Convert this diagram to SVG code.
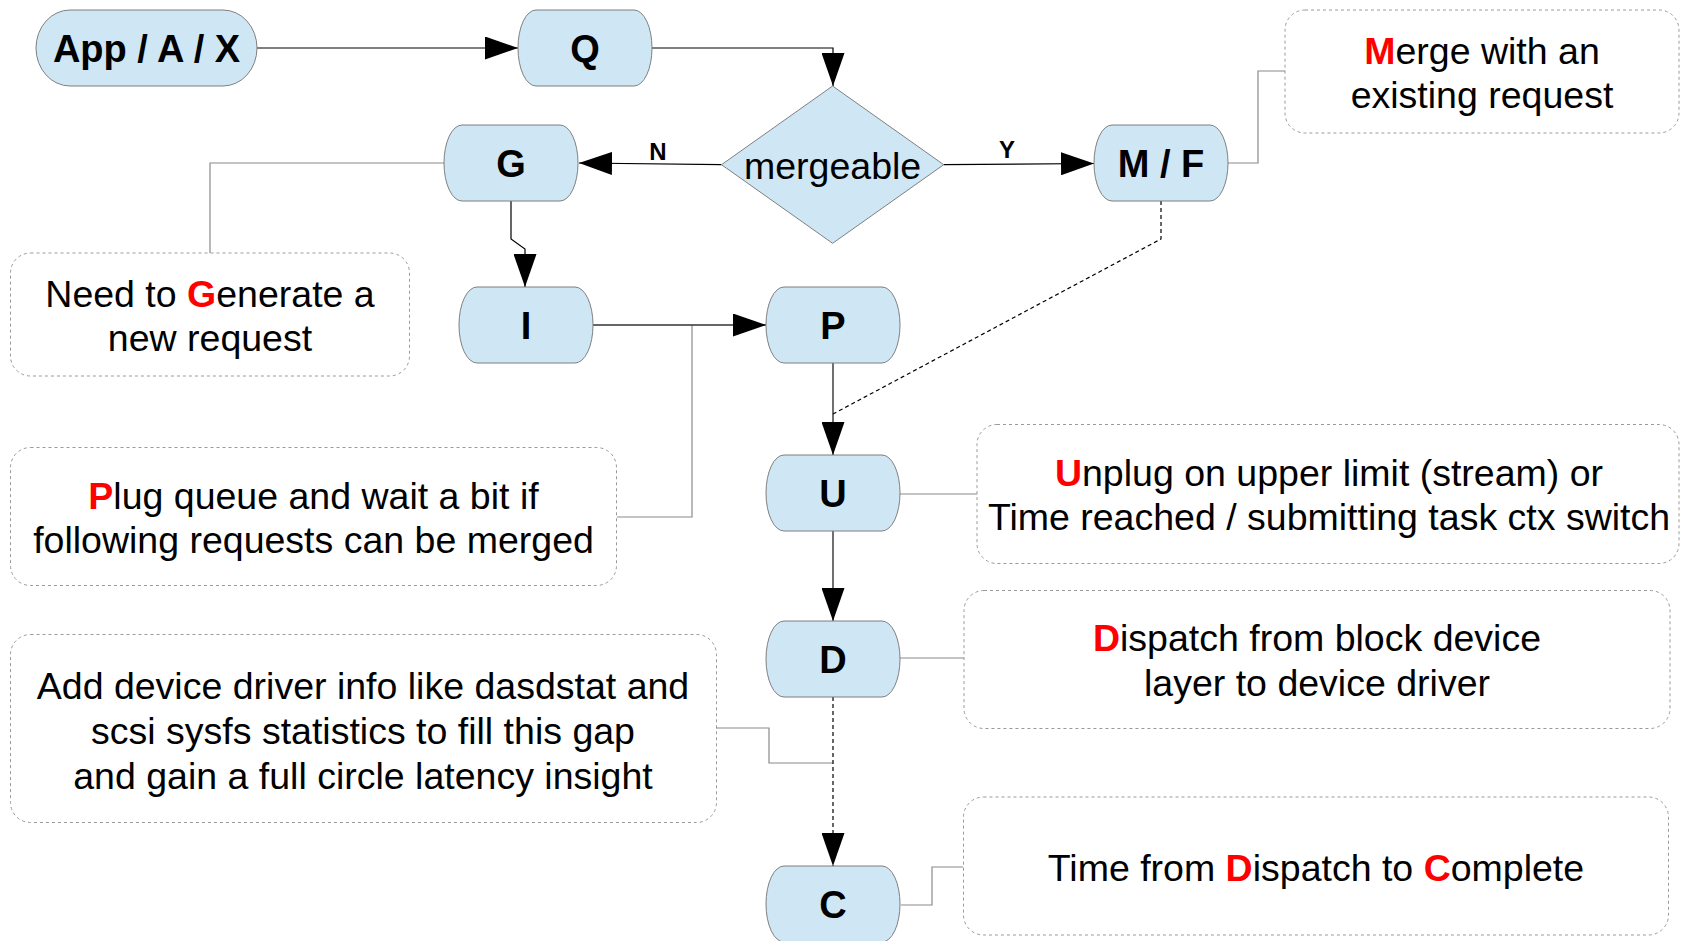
<svg xmlns="http://www.w3.org/2000/svg" width="1681" height="941" viewBox="0 0 1681 941">
  <style>
    .node { fill: #cfe7f5; stroke: #7f7f7f; stroke-width: 1; }
    .lbl { font-family: "Liberation Sans", Arial, sans-serif; font-weight: bold; font-size: 38px; fill: #000; text-anchor: middle; }
    .yn { font-family: "Liberation Sans", Arial, sans-serif; font-weight: bold; font-size: 24px; fill: #000; text-anchor: middle; }
    .note { fill: #fff; stroke: #9a9a9a; stroke-width: 1; stroke-dasharray: 3 3; }
    .ntxt { font-family: "Liberation Sans", Arial, sans-serif; font-size: 37.5px; fill: #000; text-anchor: middle; }
    .r { fill: #ff0000; font-weight: bold; }
    .flow { fill: none; stroke: #000; stroke-width: 1.2; }
    .flowg { fill: none; stroke: #333; stroke-width: 1.4; }
    .dash { fill: none; stroke: #000; stroke-width: 1.2; stroke-dasharray: 4 3; }
    .lead { fill: none; stroke: #8a8a8a; stroke-width: 1.2; }
  </style>
  <defs>
    <marker id="arrow" markerUnits="userSpaceOnUse" viewBox="0 0 33 23" refX="33" refY="11.5" markerWidth="33" markerHeight="23" orient="auto">
      <path d="M0,0 L33,11.5 L0,23 Z" fill="#000"/>
    </marker>
  </defs>
  <rect width="1681" height="941" fill="#fff"/>

  <!-- notes -->
  <g id="note-merge">
    <rect class="note" x="1285" y="10" width="394" height="123" rx="20"/>
    <text class="ntxt" x="1482" y="64"><tspan class="r">M</tspan>erge with an</text>
    <text class="ntxt" x="1482" y="108">existing request</text>
  </g>
  <g id="note-generate">
    <rect class="note" x="10.5" y="253" width="399" height="123" rx="20"/>
    <text class="ntxt" x="210" y="306.5">Need to <tspan class="r">G</tspan>enerate a</text>
    <text class="ntxt" x="210" y="350.5">new request</text>
  </g>
  <g id="note-plug">
    <rect class="note" x="10.5" y="447.5" width="606" height="138" rx="20"/>
    <text class="ntxt" x="313.5" y="508.5"><tspan class="r">P</tspan>lug queue and wait a bit if</text>
    <text class="ntxt" x="313.5" y="553">following requests can be merged</text>
  </g>
  <g id="note-unplug">
    <rect class="note" x="977" y="424.5" width="702" height="139" rx="20"/>
    <text class="ntxt" x="1329" y="486"><tspan class="r">U</tspan>nplug on upper limit (stream) or</text>
    <text class="ntxt" x="1329" y="530">Time reached / submitting task ctx switch</text>
  </g>
  <g id="note-dispatch">
    <rect class="note" x="964" y="590.5" width="706" height="138" rx="20"/>
    <text class="ntxt" x="1317" y="651"><tspan class="r">D</tspan>ispatch from block device</text>
    <text class="ntxt" x="1317" y="696">layer to device driver</text>
  </g>
  <g id="note-driver">
    <rect class="note" x="10.5" y="634.5" width="706" height="188" rx="20"/>
    <text class="ntxt" x="363" y="698.5">Add device driver info like dasdstat and</text>
    <text class="ntxt" x="363" y="744">scsi sysfs statistics to fill this gap</text>
    <text class="ntxt" x="363" y="788.5">and gain a full circle latency insight</text>
  </g>
  <g id="note-complete">
    <rect class="note" x="963.5" y="797" width="705" height="138" rx="20"/>
    <text class="ntxt" x="1316" y="881">Time from <tspan class="r">D</tspan>ispatch to <tspan class="r">C</tspan>omplete</text>
  </g>

  <!-- connectors -->
  <g id="connectors">
    <path class="lead" d="M444,163 H210 V253"/>
    <path class="lead" d="M1228,163 H1258 V71 H1285"/>
    <path class="lead" d="M692,325 V517 H617"/>
    <path class="lead" d="M900,494 H977"/>
    <path class="lead" d="M900,658 H964"/>
    <path class="lead" d="M716,728 H769 V763 H833"/>
    <path class="lead" d="M901,905 H932 V867 H963"/>

    <path class="flow" d="M257,48 H518" marker-end="url(#arrow)"/>
    <path class="flow" d="M652,48 H833 V86" marker-end="url(#arrow)"/>
    <path class="flow" d="M721.5,164.7 L579,163" marker-end="url(#arrow)"/>
    <path class="flow" d="M943.7,164.7 L1094,163.5" marker-end="url(#arrow)"/>
    <path class="flow" d="M511,201 V239 L525,249 V287" marker-end="url(#arrow)"/>
    <path class="flowg" d="M593,325 H766" marker-end="url(#arrow)"/>
    <path class="flowg" d="M833,363 V455" marker-end="url(#arrow)"/>
    <path class="dash" d="M1161,201 V239 L833,414"/>
    <path class="flowg" d="M833,531 V621" marker-end="url(#arrow)"/>
    <path class="dash" d="M833,697 V866" marker-end="url(#arrow)"/>
    <text class="yn" x="658" y="160">N</text>
    <text class="yn" x="1007" y="158">Y</text>
  </g>

  <!-- nodes -->
  <g id="node-app">
    <path class="node" d="M70,10 H223 A34 38 0 0 1 257,48 A34 38 0 0 1 223,86 H70 A34 38 0 0 1 36,48 A34 38 0 0 1 70,10 Z"/>
    <text class="lbl" x="146.5" y="61.5">App / A / X</text>
  </g>
  <g id="node-q">
    <path class="node" d="M536,10 H634 A18 38 0 0 1 652,48 A18 38 0 0 1 634,86 H536 A18 38 0 0 1 518,48 A18 38 0 0 1 536,10 Z"/>
    <text class="lbl" x="585" y="61.5">Q</text>
  </g>
  <g id="node-mergeable">
    <path class="node" d="M832.6,86 L943.7,164.7 L832.6,243.3 L721.5,164.7 Z"/>
    <text class="ntxt" x="832.6" y="179">mergeable</text>
  </g>
  <g id="node-g">
    <path class="node" d="M462,125 H560 A18 38 0 0 1 578,163 A18 38 0 0 1 560,201 H462 A18 38 0 0 1 444,163 A18 38 0 0 1 462,125 Z"/>
    <text class="lbl" x="511" y="177">G</text>
  </g>
  <g id="node-mf">
    <path class="node" d="M1112,125 H1210 A18 38 0 0 1 1228,163 A18 38 0 0 1 1210,201 H1112 A18 38 0 0 1 1094,163 A18 38 0 0 1 1112,125 Z"/>
    <text class="lbl" x="1161" y="177">M / F</text>
  </g>
  <g id="node-i">
    <path class="node" d="M477,287 H575 A18 38 0 0 1 593,325 A18 38 0 0 1 575,363 H477 A18 38 0 0 1 459,325 A18 38 0 0 1 477,287 Z"/>
    <text class="lbl" x="526" y="339">I</text>
  </g>
  <g id="node-p">
    <path class="node" d="M784,287 H882 A18 38 0 0 1 900,325 A18 38 0 0 1 882,363 H784 A18 38 0 0 1 766,325 A18 38 0 0 1 784,287 Z"/>
    <text class="lbl" x="833" y="339">P</text>
  </g>
  <g id="node-u">
    <path class="node" d="M784,455 H882 A18 38 0 0 1 900,493 A18 38 0 0 1 882,531 H784 A18 38 0 0 1 766,493 A18 38 0 0 1 784,455 Z"/>
    <text class="lbl" x="833" y="507">U</text>
  </g>
  <g id="node-d">
    <path class="node" d="M784,621 H882 A18 38 0 0 1 900,659 A18 38 0 0 1 882,697 H784 A18 38 0 0 1 766,659 A18 38 0 0 1 784,621 Z"/>
    <text class="lbl" x="833" y="673">D</text>
  </g>
  <g id="node-c">
    <path class="node" d="M784,866 H882 A18 38 0 0 1 900,904 A18 38 0 0 1 882,942 H784 A18 38 0 0 1 766,904 A18 38 0 0 1 784,866 Z"/>
    <text class="lbl" x="833" y="918">C</text>
  </g>
</svg>
